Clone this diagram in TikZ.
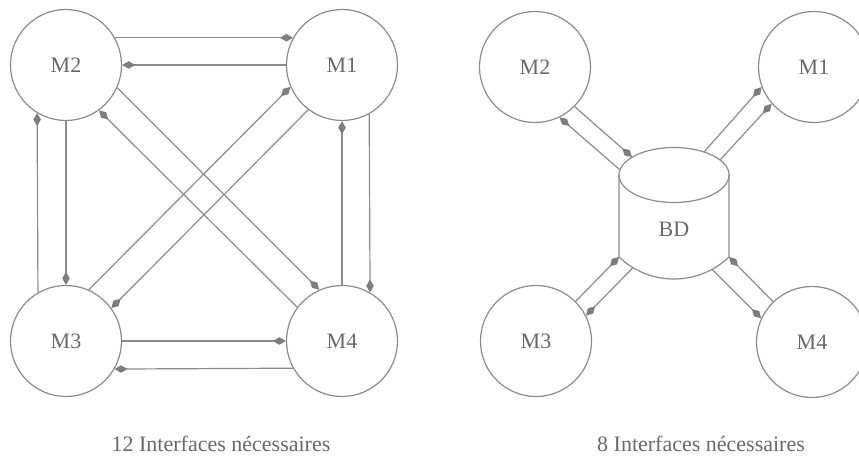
\documentclass[tikz,border=0pt]{standalone}
\usepackage{fontspec}
\setmainfont{Liberation Serif}
\usetikzlibrary{arrows.meta,calc}
\definecolor{linegray}{RGB}{140,140,140}
\definecolor{tipgray}{RGB}{125,125,125}
\definecolor{textgray}{RGB}{105,105,105}
\begin{document}
\begin{tikzpicture}[x=1pt,y=1pt,
  lbl/.style={text=textgray, font=\fontsize{22}{26}\selectfont},
  module/.style={lbl, circle, draw=linegray, line width=1.2pt,
    minimum size=111pt, inner sep=0pt},
  link/.style={draw=linegray, line width=1.2pt,
    -{Kite[length=13pt,width=7.5pt,inset=6.5pt,color=tipgray]}},
  shapeline/.style={draw=linegray, line width=1.2pt}]
\useasboundingbox (0,0) rectangle (859,455);
\clip (0,0) rectangle (859,455);

% ---------- point-to-point: every module talks to every other ----------
\node[module] (a2) at (66,390)  {M2};
\node[module] (a1) at (342,390) {M1};
\node[module] (a3) at (66,114)  {M3};
\node[module] (a4) at (342,114) {M4};

% horizontal pairs
\draw[link] (a2.29)    -- (a1.151);
\draw[link] (a1.180)   -- (a2.0);
\draw[link] (a3.0)     -- (a4.180);
\draw[link] (a4.209.7) -- (a3.330.3);
% vertical pairs
\draw[link] (a3.120.3) -- (a2.239.7);
\draw[link] (a2.270)   -- (a3.90);
\draw[link] (a4.90)    -- (a1.270);
\draw[link] (a1.299.7) -- (a4.60.3);
% diagonal pairs
\draw[link] (a3.66.1)  -- (a1.203.9);
\draw[link] (a1.233.3) -- (a3.36.7);
\draw[link] (a2.336.1) -- (a4.114.1);
\draw[link] (a4.143.3) -- (a2.306.7);

\node[lbl, anchor=base] (cap1) at (221,4) {12 Interfaces nécessaires};

% ---------- shared database in the middle ----------
\node[module] (b2) at (535,388) {M2};
\node[module] (b1) at (814,388) {M1};
\node[module] (b3) at (536,114) {M3};
\node[module] (b4) at (812,113) {M4};

% cylinder: elliptic top, circular bottom arc
\coordinate (bdtop) at (674,280);
\coordinate (bdarc) at (674,255.75);
\draw[shapeline] (bdtop) ellipse [x radius=55, y radius=27.5];
\draw[shapeline] ($(bdtop)+(-55,0)$) -- ($(bdarc)+(226.4:79.75)$)
  arc[start angle=226.4, end angle=313.6, radius=79.75] -- ($(bdtop)+(55,0)$);
\node[lbl] (bd) at (674,226) {BD};

\draw[link] ($(bdtop)+(-54,5)$)  -- (b2.-64);
\draw[link] (b2.-45)             -- ($(bdtop)+(-42,18)$);
\draw[link] ($(bdtop)+(30,23)$)  -- (b1.201);
\draw[link] ($(bdtop)+(46,15)$)  -- (b1.221);
\draw[link] (b3.45)              -- ($(bdarc)+(226.4:79.75)$);
\draw[link] ($(bdarc)+(239.06:79.75)$) -- (b3.27);
\draw[link] (b4.134)             -- ($(bdarc)+(313.6:79.75)$);
\draw[link] ($(bdarc)+(298.5:79.75)$)  -- (b4.155);

\node[lbl, anchor=base] (cap2) at (701,4) {8 Interfaces nécessaires};
\end{tikzpicture}
\end{document}
